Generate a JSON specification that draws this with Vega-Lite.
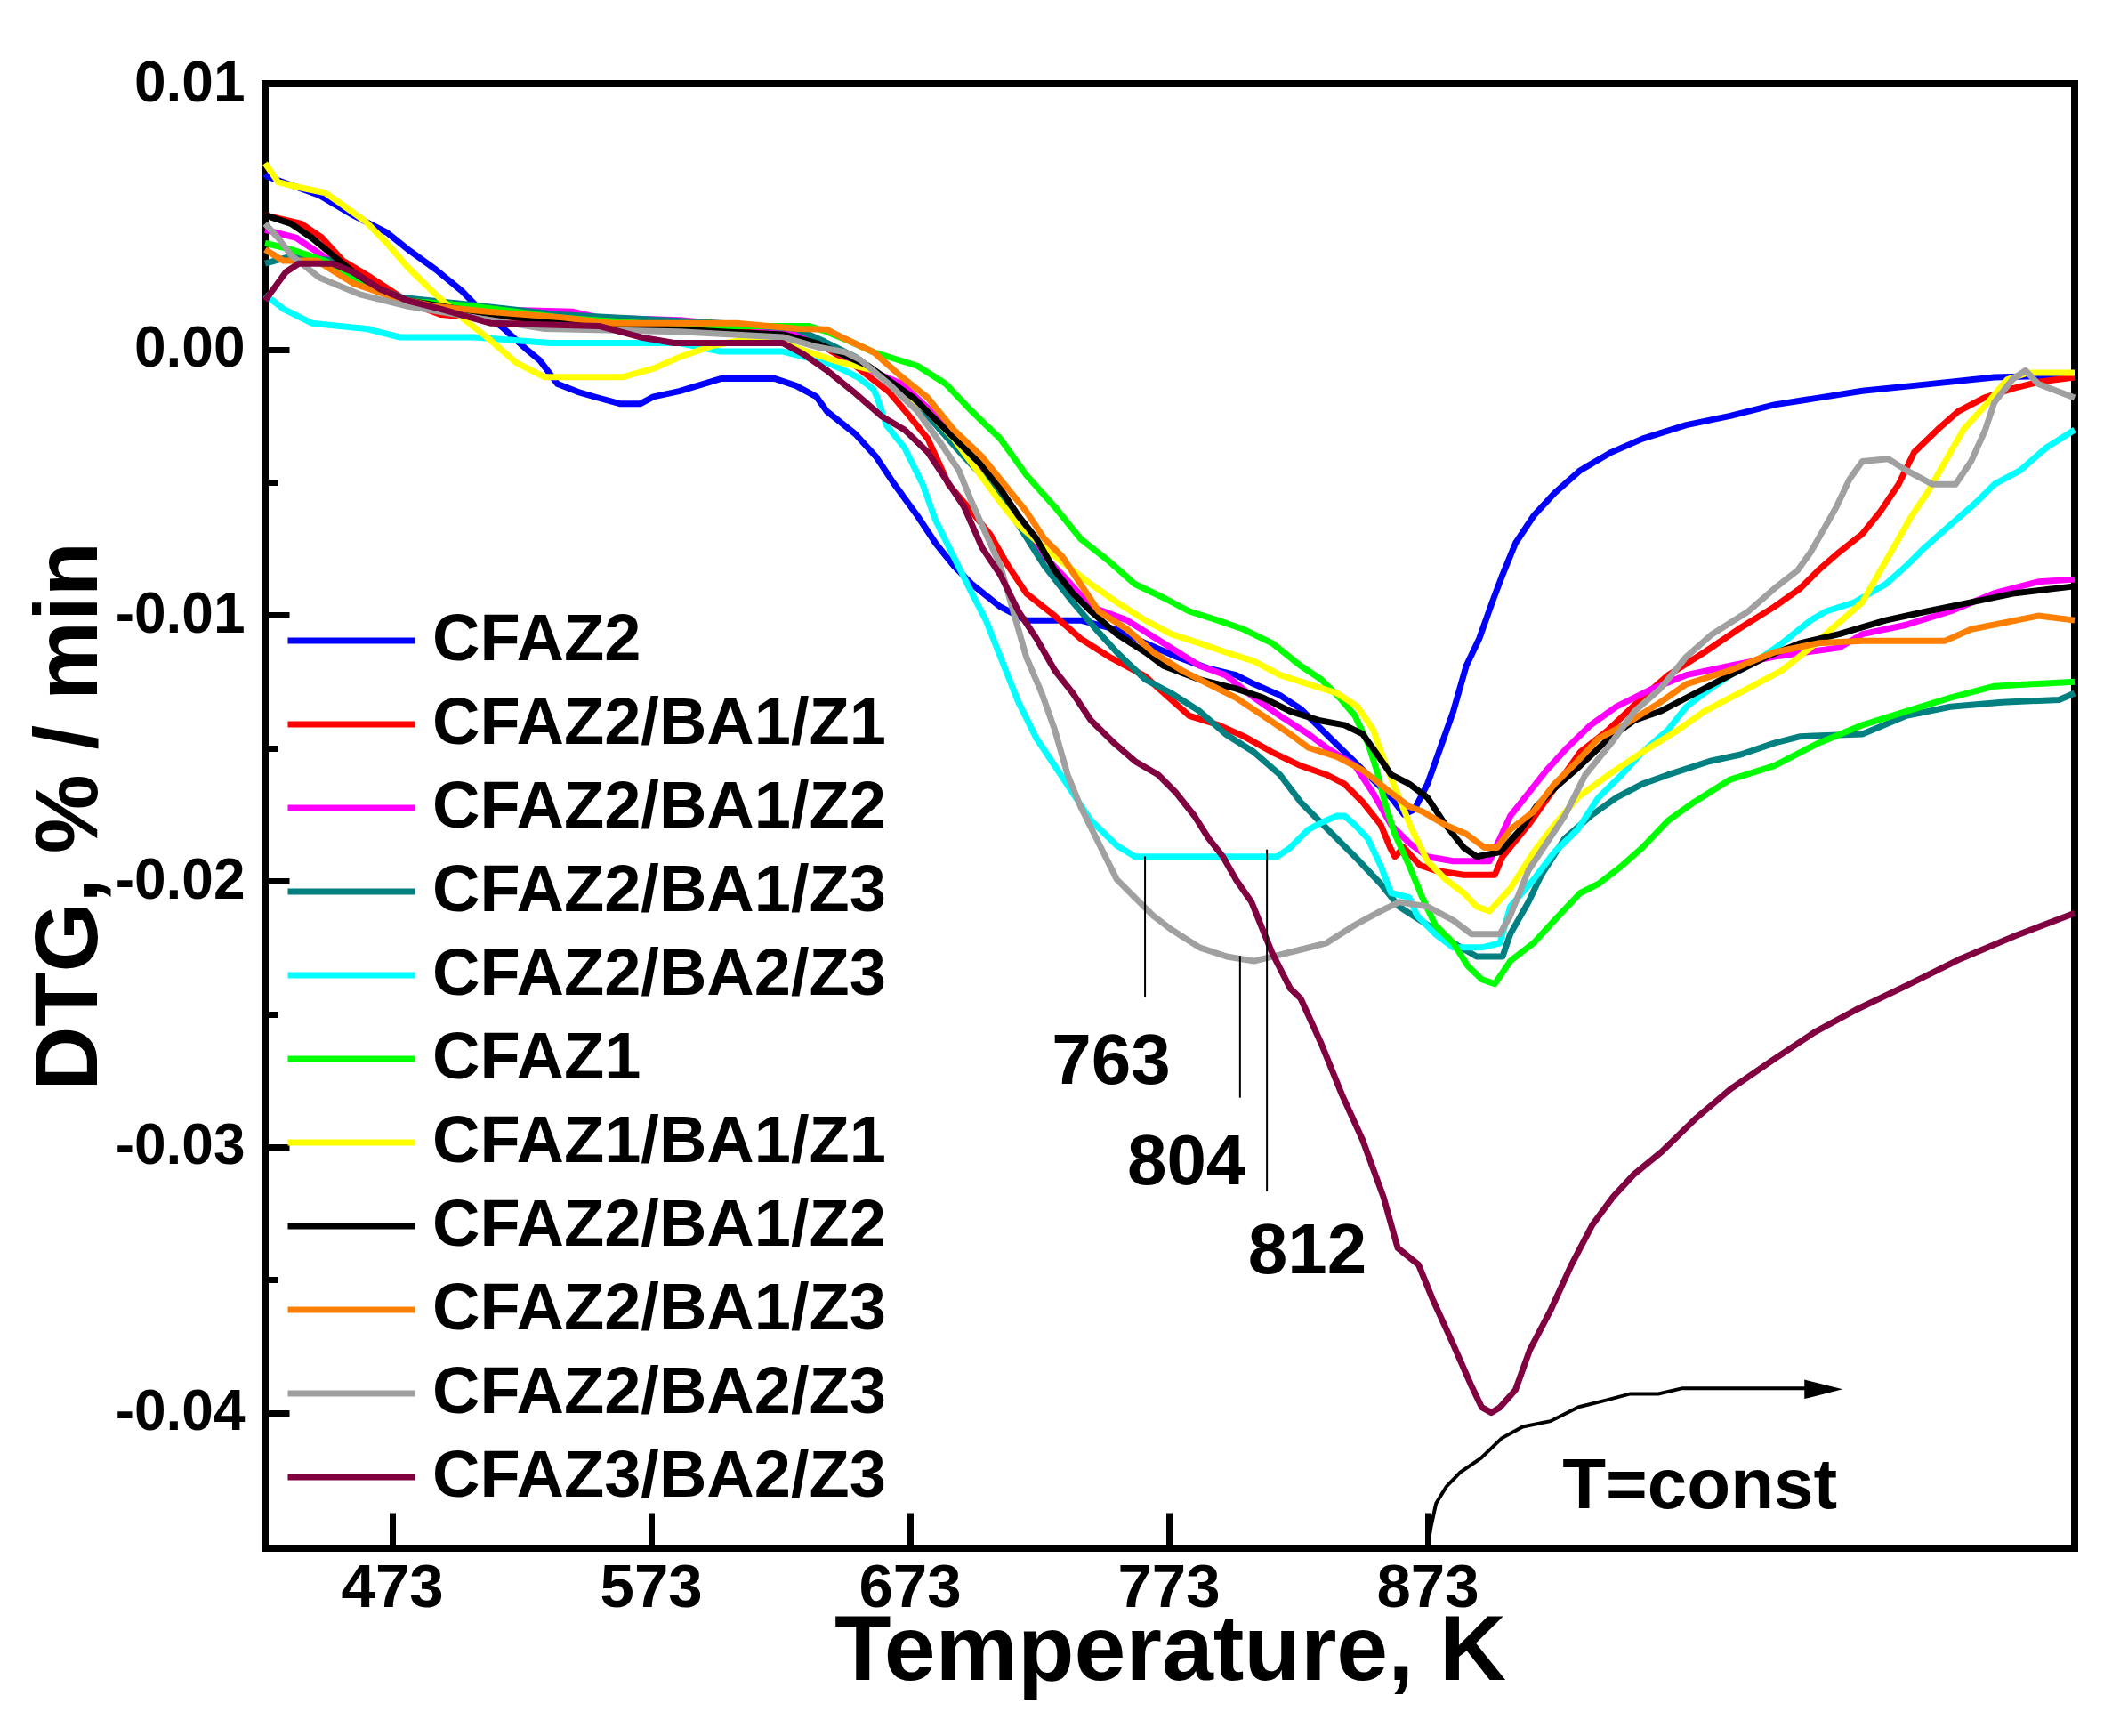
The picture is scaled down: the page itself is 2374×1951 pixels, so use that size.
{
"$schema": "https://vega.github.io/schema/vega-lite/v6.json",
"width": 2034, "height": 1646,
"autosize": {"type": "none"},
"padding": {"left": 298, "top": 94, "right": 42, "bottom": 211},
"background": "white",
"config": {
  "view": {"stroke": "black", "strokeWidth": 8},
  "font": "Liberation Sans",
  "axis": {"domain": false, "grid": false, "labelFont": "Liberation Sans", "labelFontWeight": "bold", "titleFont": "Liberation Sans", "titleFontWeight": "bold", "labelColor": "black", "titleColor": "black", "tickColor": "black", "tickWidth": 7}
},
"datasets": {
"curves": [
{"s":"01","x":424,"y":0.0066},{"s":"01","x":425,"y":0.0065},{"s":"01","x":445,"y":0.0058},{"s":"01","x":458,"y":0.00505},{"s":"01","x":471,"y":0.0044},{"s":"01","x":480,"y":0.0037},{"s":"01","x":490,"y":0.003},{"s":"01","x":500,"y":0.0022},{"s":"01","x":508,"y":0.0014},{"s":"01","x":516,"y":0.0008},{"s":"01","x":525,"y":0.0},{"s":"01","x":530,"y":-0.0004},{"s":"01","x":537,"y":-0.0013},{"s":"01","x":545,"y":-0.0016},{"s":"01","x":552,"y":-0.0018},{"s":"01","x":561,"y":-0.00204},{"s":"01","x":569,"y":-0.00204},{"s":"01","x":574,"y":-0.00178},{"s":"01","x":584,"y":-0.00157},{"s":"01","x":600,"y":-0.0011},{"s":"01","x":621,"y":-0.0011},{"s":"01","x":629,"y":-0.00136},{"s":"01","x":637,"y":-0.00178},{"s":"01","x":641,"y":-0.00233},{"s":"01","x":652,"y":-0.00318},{"s":"01","x":660,"y":-0.00404},{"s":"01","x":667,"y":-0.00506},{"s":"01","x":676,"y":-0.00626},{"s":"01","x":683,"y":-0.00729},{"s":"01","x":690,"y":-0.00814},{"s":"01","x":697,"y":-0.00883},{"s":"01","x":708,"y":-0.00968},{"s":"01","x":718,"y":-0.01019},{"s":"01","x":739,"y":-0.01019},{"s":"01","x":753,"y":-0.01054},{"s":"01","x":764,"y":-0.01105},{"s":"01","x":776,"y":-0.01156},{"s":"01","x":788,"y":-0.01199},{"s":"01","x":799,"y":-0.01225},{"s":"01","x":806,"y":-0.01259},{"s":"01","x":816,"y":-0.01301},{"s":"01","x":824,"y":-0.01352},{"s":"01","x":832,"y":-0.01429},{"s":"01","x":841,"y":-0.01515},{"s":"01","x":850,"y":-0.016},{"s":"01","x":859,"y":-0.01686},{"s":"01","x":864,"y":-0.0175},{"s":"01","x":868,"y":-0.0173},{"s":"01","x":873,"y":-0.01635},{"s":"01","x":878,"y":-0.01498},{"s":"01","x":883,"y":-0.01361},{"s":"01","x":888,"y":-0.0119},{"s":"01","x":893,"y":-0.01088},{"s":"01","x":898,"y":-0.00951},{"s":"01","x":902,"y":-0.00848},{"s":"01","x":907,"y":-0.00729},{"s":"01","x":914,"y":-0.00626},{"s":"01","x":922,"y":-0.00541},{"s":"01","x":932,"y":-0.00455},{"s":"01","x":944,"y":-0.00387},{"s":"01","x":956,"y":-0.00336},{"s":"01","x":973,"y":-0.00284},{"s":"01","x":990,"y":-0.0025},{"s":"01","x":1007,"y":-0.00208},{"s":"01","x":1024,"y":-0.00182},{"s":"01","x":1041,"y":-0.00156},{"s":"01","x":1066,"y":-0.00131},{"s":"01","x":1092,"y":-0.00105},{"s":"01","x":1123,"y":-0.00097},
{"s":"02","x":424,"y":0.00505},{"s":"02","x":438,"y":0.00473},{"s":"02","x":446,"y":0.0042},{"s":"02","x":454,"y":0.00334},{"s":"02","x":465,"y":0.0027},{"s":"02","x":480,"y":0.00174},{"s":"02","x":492,"y":0.00131},{"s":"02","x":505,"y":0.0012},{"s":"02","x":530,"y":0.001},{"s":"02","x":560,"y":0.0009},{"s":"02","x":600,"y":0.0008},{"s":"02","x":620,"y":0.0007},{"s":"02","x":635,"y":0.0004},{"s":"02","x":645,"y":-0.0002},{"s":"02","x":652,"y":-0.00062},{"s":"02","x":665,"y":-0.0016},{"s":"02","x":672,"y":-0.0024},{"s":"02","x":680,"y":-0.00336},{"s":"02","x":688,"y":-0.00507},{"s":"02","x":697,"y":-0.0061},{"s":"02","x":704,"y":-0.00695},{"s":"02","x":711,"y":-0.00814},{"s":"02","x":718,"y":-0.00917},{"s":"02","x":729,"y":-0.01002},{"s":"02","x":739,"y":-0.01088},{"s":"02","x":750,"y":-0.01156},{"s":"02","x":764,"y":-0.0123},{"s":"02","x":772,"y":-0.013},{"s":"02","x":781,"y":-0.01378},{"s":"02","x":792,"y":-0.01412},{"s":"02","x":802,"y":-0.01455},{"s":"02","x":813,"y":-0.01515},{"s":"02","x":824,"y":-0.01566},{"s":"02","x":834,"y":-0.016},{"s":"02","x":841,"y":-0.01635},{"s":"02","x":848,"y":-0.01703},{"s":"02","x":855,"y":-0.01789},{"s":"02","x":858.6,"y":-0.01874},{"s":"02","x":860.4,"y":-0.01908},{"s":"02","x":863.9,"y":-0.01874},{"s":"02","x":870,"y":-0.0194},{"s":"02","x":876,"y":-0.0196},{"s":"02","x":887,"y":-0.01977},{"s":"02","x":899,"y":-0.01977},{"s":"02","x":902,"y":-0.01908},{"s":"02","x":912,"y":-0.01789},{"s":"02","x":922,"y":-0.01652},{"s":"02","x":932,"y":-0.01515},{"s":"02","x":943,"y":-0.0143},{"s":"02","x":956,"y":-0.0131},{"s":"02","x":966,"y":-0.01225},{"s":"02","x":980,"y":-0.01139},{"s":"02","x":993,"y":-0.01053},{"s":"02","x":1007,"y":-0.00968},{"s":"02","x":1017,"y":-0.00899},{"s":"02","x":1024,"y":-0.00831},{"s":"02","x":1032,"y":-0.00763},{"s":"02","x":1041,"y":-0.00694},{"s":"02","x":1048,"y":-0.00609},{"s":"02","x":1055,"y":-0.00507},{"s":"02","x":1061,"y":-0.00387},{"s":"02","x":1070,"y":-0.00302},{"s":"02","x":1078,"y":-0.00233},{"s":"02","x":1088,"y":-0.00182},{"s":"02","x":1099,"y":-0.00147},{"s":"02","x":1109,"y":-0.00122},{"s":"02","x":1123,"y":-0.00105},
{"s":"03","x":424,"y":0.0045},{"s":"03","x":436,"y":0.0042},{"s":"03","x":449,"y":0.00334},{"s":"03","x":468,"y":0.00227},{"s":"03","x":479,"y":0.00184},{"s":"03","x":504,"y":0.00152},{"s":"03","x":543,"y":0.00142},{"s":"03","x":553,"y":0.0012},{"s":"03","x":585,"y":0.0011},{"s":"03","x":622,"y":0.00078},{"s":"03","x":635,"y":0.00035},{"s":"03","x":645,"y":-0.0001},{"s":"03","x":658,"y":-0.0008},{"s":"03","x":670,"y":-0.0013},{"s":"03","x":680,"y":-0.0022},{"s":"03","x":690,"y":-0.0033},{"s":"03","x":700,"y":-0.0046},{"s":"03","x":708,"y":-0.0055},{"s":"03","x":715,"y":-0.0066},{"s":"03","x":722,"y":-0.00746},{"s":"03","x":732,"y":-0.00848},{"s":"03","x":743,"y":-0.00968},{"s":"03","x":757,"y":-0.01019},{"s":"03","x":771,"y":-0.01105},{"s":"03","x":785,"y":-0.0119},{"s":"03","x":795,"y":-0.01225},{"s":"03","x":806,"y":-0.0131},{"s":"03","x":816,"y":-0.01378},{"s":"03","x":827,"y":-0.01447},{"s":"03","x":834,"y":-0.01498},{"s":"03","x":845,"y":-0.01566},{"s":"03","x":852,"y":-0.01669},{"s":"03","x":859,"y":-0.01789},{"s":"03","x":866,"y":-0.01857},{"s":"03","x":873,"y":-0.01908},{"s":"03","x":883,"y":-0.01925},{"s":"03","x":897,"y":-0.01925},{"s":"03","x":905,"y":-0.01755},{"s":"03","x":912,"y":-0.01669},{"s":"03","x":919,"y":-0.01583},{"s":"03","x":927,"y":-0.01498},{"s":"03","x":936,"y":-0.01413},{"s":"03","x":946,"y":-0.01344},{"s":"03","x":960,"y":-0.01276},{"s":"03","x":973,"y":-0.01225},{"s":"03","x":990,"y":-0.0119},{"s":"03","x":1007,"y":-0.01156},{"s":"03","x":1032,"y":-0.01122},{"s":"03","x":1041,"y":-0.01071},{"s":"03","x":1058,"y":-0.01036},{"s":"03","x":1075,"y":-0.00985},{"s":"03","x":1092,"y":-0.00917},{"s":"03","x":1109,"y":-0.00874},{"s":"03","x":1123,"y":-0.00865},
{"s":"04","x":424,"y":0.00323},{"s":"04","x":434,"y":0.0035},{"s":"04","x":451,"y":0.00334},{"s":"04","x":462,"y":0.00249},{"s":"04","x":477,"y":0.00195},{"s":"04","x":498,"y":0.00174},{"s":"04","x":537,"y":0.00131},{"s":"04","x":600,"y":0.00099},{"s":"04","x":629,"y":0.00078},{"s":"04","x":640,"y":0.0003},{"s":"04","x":652,"y":-0.00028},{"s":"04","x":666,"y":-0.0013},{"s":"04","x":680,"y":-0.0025},{"s":"04","x":694,"y":-0.00404},{"s":"04","x":704,"y":-0.00507},{"s":"04","x":715,"y":-0.0066},{"s":"04","x":725,"y":-0.00814},{"s":"04","x":736,"y":-0.00951},{"s":"04","x":745,"y":-0.01053},{"s":"04","x":753,"y":-0.01139},{"s":"04","x":764,"y":-0.01242},{"s":"04","x":774,"y":-0.01293},{"s":"04","x":785,"y":-0.01361},{"s":"04","x":795,"y":-0.01447},{"s":"04","x":806,"y":-0.01515},{"s":"04","x":816,"y":-0.016},{"s":"04","x":824,"y":-0.01703},{"s":"04","x":831,"y":-0.01772},{"s":"04","x":838,"y":-0.0184},{"s":"04","x":845,"y":-0.01908},{"s":"04","x":855,"y":-0.02011},{"s":"04","x":862,"y":-0.02096},{"s":"04","x":873,"y":-0.02165},{"s":"04","x":883,"y":-0.02233},{"s":"04","x":892,"y":-0.02284},{"s":"04","x":902,"y":-0.02284},{"s":"04","x":905,"y":-0.02199},{"s":"04","x":912,"y":-0.02079},{"s":"04","x":917,"y":-0.01977},{"s":"04","x":926,"y":-0.0184},{"s":"04","x":936,"y":-0.01755},{"s":"04","x":946,"y":-0.01686},{"s":"04","x":956,"y":-0.01635},{"s":"04","x":966,"y":-0.016},{"s":"04","x":982,"y":-0.01549},{"s":"04","x":994,"y":-0.01524},{"s":"04","x":1007,"y":-0.01481},{"s":"04","x":1017,"y":-0.01456},{"s":"04","x":1041,"y":-0.01447},{"s":"04","x":1058,"y":-0.01378},{"s":"04","x":1075,"y":-0.01344},{"s":"04","x":1095,"y":-0.01327},{"s":"04","x":1117,"y":-0.01318},{"s":"04","x":1123,"y":-0.01293},
{"s":"05","x":424,"y":0.00206},{"s":"05","x":431,"y":0.00153},{"s":"05","x":442,"y":0.00099},{"s":"05","x":463,"y":0.00078},{"s":"05","x":476,"y":0.00046},{"s":"05","x":505,"y":0.00046},{"s":"05","x":534,"y":0.00024},{"s":"05","x":584,"y":0.00024},{"s":"05","x":600,"y":-0.00008},{"s":"05","x":624,"y":-0.00008},{"s":"05","x":637,"y":-0.0004},{"s":"05","x":641,"y":-0.0005},{"s":"05","x":648,"y":-0.0008},{"s":"05","x":653,"y":-0.00105},{"s":"05","x":659,"y":-0.0015},{"s":"05","x":660.4,"y":-0.0018},{"s":"05","x":664,"y":-0.00285},{"s":"05","x":671,"y":-0.0037},{"s":"05","x":678,"y":-0.00507},{"s":"05","x":683,"y":-0.00643},{"s":"05","x":690,"y":-0.0078},{"s":"05","x":697,"y":-0.00917},{"s":"05","x":702.5,"y":-0.0102},{"s":"05","x":708,"y":-0.01156},{"s":"05","x":715,"y":-0.01327},{"s":"05","x":722,"y":-0.01464},{"s":"05","x":729,"y":-0.01566},{"s":"05","x":736,"y":-0.01669},{"s":"05","x":743,"y":-0.01772},{"s":"05","x":753,"y":-0.01866},{"s":"05","x":760,"y":-0.01908},{"s":"05","x":788,"y":-0.01908},{"s":"05","x":815,"y":-0.01908},{"s":"05","x":820,"y":-0.01874},{"s":"05","x":827,"y":-0.01806},{"s":"05","x":832,"y":-0.0178},{"s":"05","x":838,"y":-0.01755},{"s":"05","x":841,"y":-0.01755},{"s":"05","x":845,"y":-0.01789},{"s":"05","x":850,"y":-0.0184},{"s":"05","x":855,"y":-0.01943},{"s":"05","x":859,"y":-0.02045},{"s":"05","x":866,"y":-0.02062},{"s":"05","x":869,"y":-0.0213},{"s":"05","x":876,"y":-0.02199},{"s":"05","x":883,"y":-0.0225},{"s":"05","x":894,"y":-0.0225},{"s":"05","x":901,"y":-0.02233},{"s":"05","x":905,"y":-0.02096},{"s":"05","x":914,"y":-0.01994},{"s":"05","x":922,"y":-0.01891},{"s":"05","x":931,"y":-0.01806},{"s":"05","x":939,"y":-0.01686},{"s":"05","x":948,"y":-0.016},{"s":"05","x":956,"y":-0.01515},{"s":"05","x":966,"y":-0.0143},{"s":"05","x":973,"y":-0.01344},{"s":"05","x":980,"y":-0.01293},{"s":"05","x":990,"y":-0.01225},{"s":"05","x":1000,"y":-0.01173},{"s":"05","x":1010,"y":-0.01105},{"s":"05","x":1021,"y":-0.01019},{"s":"05","x":1027,"y":-0.00985},{"s":"05","x":1038,"y":-0.00951},{"s":"05","x":1050,"y":-0.00883},{"s":"05","x":1058,"y":-0.00814},{"s":"05","x":1065,"y":-0.00746},{"s":"05","x":1075,"y":-0.0066},{"s":"05","x":1085,"y":-0.00575},{"s":"05","x":1092,"y":-0.00507},{"s":"05","x":1102,"y":-0.00455},{"s":"05","x":1112,"y":-0.0037},{"s":"05","x":1123,"y":-0.00302},
{"s":"06","x":424,"y":0.004},{"s":"06","x":434,"y":0.00376},{"s":"06","x":447,"y":0.00334},{"s":"06","x":462,"y":0.00249},{"s":"06","x":477,"y":0.00184},{"s":"06","x":504,"y":0.00163},{"s":"06","x":538,"y":0.0012},{"s":"06","x":584,"y":0.00088},{"s":"06","x":634,"y":0.00088},{"s":"06","x":640,"y":0.0007},{"s":"06","x":650,"y":0.0003},{"s":"06","x":659,"y":-0.0001},{"s":"06","x":676,"y":-0.00062},{"s":"06","x":687,"y":-0.0013},{"s":"06","x":697,"y":-0.00233},{"s":"06","x":708,"y":-0.00336},{"s":"06","x":718,"y":-0.00472},{"s":"06","x":729,"y":-0.00592},{"s":"06","x":739,"y":-0.00712},{"s":"06","x":750,"y":-0.00797},{"s":"06","x":760,"y":-0.00883},{"s":"06","x":771,"y":-0.00934},{"s":"06","x":781,"y":-0.00985},{"s":"06","x":792,"y":-0.01019},{"s":"06","x":802,"y":-0.01053},{"s":"06","x":813,"y":-0.01105},{"s":"06","x":824,"y":-0.0119},{"s":"06","x":832,"y":-0.01242},{"s":"06","x":839,"y":-0.0131},{"s":"06","x":845,"y":-0.01378},{"s":"06","x":850,"y":-0.01481},{"s":"06","x":853.4,"y":-0.01583},{"s":"06","x":857,"y":-0.0172},{"s":"06","x":860.4,"y":-0.01823},{"s":"06","x":866,"y":-0.01943},{"s":"06","x":871,"y":-0.02062},{"s":"06","x":876,"y":-0.02165},{"s":"06","x":883,"y":-0.02233},{"s":"06","x":888.5,"y":-0.02318},{"s":"06","x":894,"y":-0.0237},{"s":"06","x":899,"y":-0.02387},{"s":"06","x":905,"y":-0.02301},{"s":"06","x":914,"y":-0.02233},{"s":"06","x":922,"y":-0.02148},{"s":"06","x":932,"y":-0.02045},{"s":"06","x":939,"y":-0.02011},{"s":"06","x":948,"y":-0.01943},{"s":"06","x":956,"y":-0.01874},{"s":"06","x":966,"y":-0.01772},{"s":"06","x":976,"y":-0.01703},{"s":"06","x":990,"y":-0.01618},{"s":"06","x":1007,"y":-0.01566},{"s":"06","x":1024,"y":-0.01481},{"s":"06","x":1041,"y":-0.01413},{"s":"06","x":1058,"y":-0.01361},{"s":"06","x":1075,"y":-0.0131},{"s":"06","x":1092,"y":-0.01267},{"s":"06","x":1123,"y":-0.0125},
{"s":"07","x":424,"y":0.007},{"s":"07","x":429,"y":0.0063},{"s":"07","x":437,"y":0.0061},{"s":"07","x":447,"y":0.0059},{"s":"07","x":453,"y":0.0055},{"s":"07","x":463,"y":0.0048},{"s":"07","x":471,"y":0.004},{"s":"07","x":479,"y":0.0031},{"s":"07","x":490,"y":0.00206},{"s":"07","x":500,"y":0.0012},{"s":"07","x":511,"y":0.00035},{"s":"07","x":521,"y":-0.0005},{"s":"07","x":532,"y":-0.00104},{"s":"07","x":562,"y":-0.00104},{"s":"07","x":574,"y":-0.00072},{"s":"07","x":584,"y":-0.00029},{"s":"07","x":597,"y":0.00014},{"s":"07","x":608,"y":0.00035},{"s":"07","x":624,"y":0.00024},{"s":"07","x":637,"y":-0.0002},{"s":"07","x":645,"y":-0.00045},{"s":"07","x":659,"y":-0.00079},{"s":"07","x":669,"y":-0.00147},{"s":"07","x":680,"y":-0.00233},{"s":"07","x":690,"y":-0.00336},{"s":"07","x":699,"y":-0.00455},{"s":"07","x":708,"y":-0.00575},{"s":"07","x":715,"y":-0.0066},{"s":"07","x":725,"y":-0.00746},{"s":"07","x":736,"y":-0.00831},{"s":"07","x":743,"y":-0.00883},{"s":"07","x":753,"y":-0.00951},{"s":"07","x":764,"y":-0.01019},{"s":"07","x":774,"y":-0.01071},{"s":"07","x":785,"y":-0.01105},{"s":"07","x":795,"y":-0.01139},{"s":"07","x":806,"y":-0.01173},{"s":"07","x":816,"y":-0.01225},{"s":"07","x":827,"y":-0.01259},{"s":"07","x":838,"y":-0.01293},{"s":"07","x":846,"y":-0.01344},{"s":"07","x":852,"y":-0.0143},{"s":"07","x":857,"y":-0.01566},{"s":"07","x":862,"y":-0.01686},{"s":"07","x":867,"y":-0.01806},{"s":"07","x":873,"y":-0.01925},{"s":"07","x":880,"y":-0.01994},{"s":"07","x":887,"y":-0.02045},{"s":"07","x":892,"y":-0.02096},{"s":"07","x":897,"y":-0.02113},{"s":"07","x":905,"y":-0.02028},{"s":"07","x":914,"y":-0.01891},{"s":"07","x":922,"y":-0.01789},{"s":"07","x":931,"y":-0.01686},{"s":"07","x":943,"y":-0.016},{"s":"07","x":956,"y":-0.01515},{"s":"07","x":970,"y":-0.0143},{"s":"07","x":980,"y":-0.01361},{"s":"07","x":990,"y":-0.0131},{"s":"07","x":1000,"y":-0.01259},{"s":"07","x":1010,"y":-0.01207},{"s":"07","x":1021,"y":-0.01122},{"s":"07","x":1031,"y":-0.01036},{"s":"07","x":1041,"y":-0.00951},{"s":"07","x":1048,"y":-0.00831},{"s":"07","x":1055,"y":-0.00712},{"s":"07","x":1060,"y":-0.00626},{"s":"07","x":1066,"y":-0.00541},{"s":"07","x":1073,"y":-0.00421},{"s":"07","x":1080,"y":-0.00302},{"s":"07","x":1088,"y":-0.00216},{"s":"07","x":1097,"y":-0.00113},{"s":"07","x":1105,"y":-0.00088},{"s":"07","x":1123,"y":-0.00088},
{"s":"08","x":424,"y":0.00505},{"s":"08","x":434,"y":0.00473},{"s":"08","x":442,"y":0.0042},{"s":"08","x":450,"y":0.00355},{"s":"08","x":458,"y":0.00291},{"s":"08","x":468,"y":0.00227},{"s":"08","x":479,"y":0.00184},{"s":"08","x":505,"y":0.00142},{"s":"08","x":521,"y":0.0012},{"s":"08","x":560,"y":0.00088},{"s":"08","x":600,"y":0.00067},{"s":"08","x":624,"y":0.00056},{"s":"08","x":637,"y":0.00024},{"s":"08","x":645,"y":-0.0001},{"s":"08","x":657,"y":-0.00062},{"s":"08","x":674.5,"y":-0.00182},{"s":"08","x":687,"y":-0.00302},{"s":"08","x":694,"y":-0.0037},{"s":"08","x":701,"y":-0.00438},{"s":"08","x":708,"y":-0.00524},{"s":"08","x":715,"y":-0.00626},{"s":"08","x":722,"y":-0.00712},{"s":"08","x":729,"y":-0.00831},{"s":"08","x":736,"y":-0.00917},{"s":"08","x":743,"y":-0.00985},{"s":"08","x":753,"y":-0.01071},{"s":"08","x":764,"y":-0.01139},{"s":"08","x":771,"y":-0.0119},{"s":"08","x":785,"y":-0.01242},{"s":"08","x":799,"y":-0.01276},{"s":"08","x":809.5,"y":-0.0131},{"s":"08","x":820,"y":-0.01361},{"s":"08","x":831,"y":-0.01395},{"s":"08","x":841,"y":-0.01413},{"s":"08","x":848,"y":-0.01447},{"s":"08","x":853,"y":-0.01515},{"s":"08","x":859,"y":-0.016},{"s":"08","x":866,"y":-0.01635},{"s":"08","x":873,"y":-0.01686},{"s":"08","x":880,"y":-0.01789},{"s":"08","x":887,"y":-0.01874},{"s":"08","x":892,"y":-0.01908},{"s":"08","x":901,"y":-0.01891},{"s":"08","x":909,"y":-0.01806},{"s":"08","x":915,"y":-0.0172},{"s":"08","x":922,"y":-0.01652},{"s":"08","x":932,"y":-0.01566},{"s":"08","x":943,"y":-0.01464},{"s":"08","x":953,"y":-0.01395},{"s":"08","x":963,"y":-0.01361},{"s":"08","x":976.5,"y":-0.01293},{"s":"08","x":990,"y":-0.01225},{"s":"08","x":1004,"y":-0.01156},{"s":"08","x":1017,"y":-0.01105},{"s":"08","x":1032,"y":-0.01071},{"s":"08","x":1050,"y":-0.01019},{"s":"08","x":1066,"y":-0.00985},{"s":"08","x":1083,"y":-0.00951},{"s":"08","x":1100,"y":-0.00917},{"s":"08","x":1123,"y":-0.00891},
{"s":"09","x":424,"y":0.00376},{"s":"09","x":431,"y":0.00334},{"s":"09","x":444,"y":0.00334},{"s":"09","x":458,"y":0.00249},{"s":"09","x":474,"y":0.00195},{"s":"09","x":489,"y":0.00163},{"s":"09","x":510,"y":0.00142},{"s":"09","x":539,"y":0.0012},{"s":"09","x":558,"y":0.00099},{"s":"09","x":606,"y":0.00099},{"s":"09","x":630,"y":0.00078},{"s":"09","x":641,"y":0.00075},{"s":"09","x":648,"y":0.0004},{"s":"09","x":659,"y":-0.0001},{"s":"09","x":669,"y":-0.00096},{"s":"09","x":680,"y":-0.00182},{"s":"09","x":690,"y":-0.00302},{"s":"09","x":701,"y":-0.00404},{"s":"09","x":708,"y":-0.00489},{"s":"09","x":718,"y":-0.00609},{"s":"09","x":725,"y":-0.00712},{"s":"09","x":732,"y":-0.0078},{"s":"09","x":739,"y":-0.00883},{"s":"09","x":746,"y":-0.00985},{"s":"09","x":757,"y":-0.01053},{"s":"09","x":767,"y":-0.01139},{"s":"09","x":778,"y":-0.01207},{"s":"09","x":788.5,"y":-0.01259},{"s":"09","x":799,"y":-0.0131},{"s":"09","x":809.5,"y":-0.01378},{"s":"09","x":820,"y":-0.01447},{"s":"09","x":827,"y":-0.01498},{"s":"09","x":838,"y":-0.01532},{"s":"09","x":848,"y":-0.01583},{"s":"09","x":859,"y":-0.01669},{"s":"09","x":866,"y":-0.0172},{"s":"09","x":871,"y":-0.01738},{"s":"09","x":880,"y":-0.01789},{"s":"09","x":888,"y":-0.01823},{"s":"09","x":895,"y":-0.01874},{"s":"09","x":900,"y":-0.01874},{"s":"09","x":905,"y":-0.01806},{"s":"09","x":914,"y":-0.01738},{"s":"09","x":922,"y":-0.01635},{"s":"09","x":931,"y":-0.01549},{"s":"09","x":939,"y":-0.01464},{"s":"09","x":949,"y":-0.01413},{"s":"09","x":963,"y":-0.01327},{"s":"09","x":973,"y":-0.01259},{"s":"09","x":990,"y":-0.01207},{"s":"09","x":1007,"y":-0.01139},{"s":"09","x":1024,"y":-0.01105},{"s":"09","x":1041,"y":-0.01096},{"s":"09","x":1073,"y":-0.01096},{"s":"09","x":1083,"y":-0.01053},{"s":"09","x":1109,"y":-0.01002},{"s":"09","x":1123,"y":-0.01019},
{"s":"10","x":424,"y":0.00473},{"s":"10","x":429,"y":0.0042},{"s":"10","x":434,"y":0.00355},{"s":"10","x":445,"y":0.0027},{"s":"10","x":461,"y":0.00206},{"s":"10","x":479,"y":0.00163},{"s":"10","x":505,"y":0.0012},{"s":"10","x":532,"y":0.00078},{"s":"10","x":584,"y":0.00067},{"s":"10","x":624,"y":0.00046},{"s":"10","x":637,"y":0.0001},{"s":"10","x":648,"y":-0.0001},{"s":"10","x":654,"y":-0.0004},{"s":"10","x":665,"y":-0.0013},{"s":"10","x":676,"y":-0.00233},{"s":"10","x":685,"y":-0.00353},{"s":"10","x":692,"y":-0.00455},{"s":"10","x":697,"y":-0.00575},{"s":"10","x":702.5,"y":-0.00695},{"s":"10","x":708,"y":-0.00814},{"s":"10","x":713,"y":-0.00985},{"s":"10","x":718,"y":-0.01156},{"s":"10","x":724,"y":-0.01293},{"s":"10","x":729,"y":-0.0143},{"s":"10","x":734,"y":-0.016},{"s":"10","x":739,"y":-0.0172},{"s":"10","x":746,"y":-0.01857},{"s":"10","x":753,"y":-0.01994},{"s":"10","x":760,"y":-0.02062},{"s":"10","x":767,"y":-0.0213},{"s":"10","x":774,"y":-0.02182},{"s":"10","x":785,"y":-0.0225},{"s":"10","x":795.5,"y":-0.02284},{"s":"10","x":806,"y":-0.02301},{"s":"10","x":813,"y":-0.02284},{"s":"10","x":824,"y":-0.02258},{"s":"10","x":834,"y":-0.02233},{"s":"10","x":845,"y":-0.02165},{"s":"10","x":855,"y":-0.02113},{"s":"10","x":862,"y":-0.02079},{"s":"10","x":873,"y":-0.02096},{"s":"10","x":883,"y":-0.02148},{"s":"10","x":890,"y":-0.02199},{"s":"10","x":901,"y":-0.02199},{"s":"10","x":905,"y":-0.0213},{"s":"10","x":912,"y":-0.0196},{"s":"10","x":919,"y":-0.01857},{"s":"10","x":926,"y":-0.01755},{"s":"10","x":934,"y":-0.016},{"s":"10","x":944,"y":-0.01481},{"s":"10","x":953,"y":-0.01361},{"s":"10","x":963,"y":-0.01276},{"s":"10","x":973,"y":-0.01156},{"s":"10","x":983,"y":-0.01071},{"s":"10","x":997,"y":-0.00985},{"s":"10","x":1007,"y":-0.009},{"s":"10","x":1016,"y":-0.00831},{"s":"10","x":1021,"y":-0.00763},{"s":"10","x":1026,"y":-0.00678},{"s":"10","x":1031,"y":-0.00592},{"s":"10","x":1036,"y":-0.00489},{"s":"10","x":1041,"y":-0.00421},{"s":"10","x":1051,"y":-0.00412},{"s":"10","x":1058,"y":-0.00455},{"s":"10","x":1068,"y":-0.00507},{"s":"10","x":1077,"y":-0.00507},{"s":"10","x":1083,"y":-0.00421},{"s":"10","x":1088.5,"y":-0.00302},{"s":"10","x":1092,"y":-0.00199},{"s":"10","x":1099,"y":-0.00113},{"s":"10","x":1104,"y":-0.00079},{"s":"10","x":1109,"y":-0.0013},{"s":"10","x":1116,"y":-0.00156},{"s":"10","x":1123,"y":-0.00182},
{"s":"11","x":424,"y":0.00184},{"s":"11","x":432,"y":0.00291},{"s":"11","x":437,"y":0.00323},{"s":"11","x":450,"y":0.00323},{"s":"11","x":458,"y":0.00291},{"s":"11","x":468.5,"y":0.00227},{"s":"11","x":479,"y":0.00184},{"s":"11","x":492,"y":0.00152},{"s":"11","x":511,"y":0.00099},{"s":"11","x":553,"y":0.00088},{"s":"11","x":569,"y":0.00046},{"s":"11","x":582,"y":0.00024},{"s":"11","x":624,"y":0.00024},{"s":"11","x":632,"y":-0.00018},{"s":"11","x":641,"y":-0.00079},{"s":"11","x":652,"y":-0.00165},{"s":"11","x":662,"y":-0.0025},{"s":"11","x":671,"y":-0.00302},{"s":"11","x":680,"y":-0.00387},{"s":"11","x":687,"y":-0.00489},{"s":"11","x":694,"y":-0.00592},{"s":"11","x":701,"y":-0.00746},{"s":"11","x":708,"y":-0.00848},{"s":"11","x":715,"y":-0.00985},{"s":"11","x":722,"y":-0.01088},{"s":"11","x":729,"y":-0.01207},{"s":"11","x":736,"y":-0.01293},{"s":"11","x":743,"y":-0.01395},{"s":"11","x":752,"y":-0.01481},{"s":"11","x":760,"y":-0.01549},{"s":"11","x":769,"y":-0.016},{"s":"11","x":776,"y":-0.01669},{"s":"11","x":783,"y":-0.01755},{"s":"11","x":788.5,"y":-0.0184},{"s":"11","x":794,"y":-0.01908},{"s":"11","x":799,"y":-0.01994},{"s":"11","x":805,"y":-0.02078},{"s":"11","x":813,"y":-0.0227},{"s":"11","x":820,"y":-0.02404},{"s":"11","x":824,"y":-0.02441},{"s":"11","x":832,"y":-0.02612},{"s":"11","x":840,"y":-0.02804},{"s":"11","x":848,"y":-0.02975},{"s":"11","x":856,"y":-0.03188},{"s":"11","x":861.5,"y":-0.0338},{"s":"11","x":869.6,"y":-0.03444},{"s":"11","x":875,"y":-0.03573},{"s":"11","x":883,"y":-0.03744},{"s":"11","x":889.7,"y":-0.03893},{"s":"11","x":894,"y":-0.0398},{"s":"11","x":897.7,"y":-0.04},{"s":"11","x":901,"y":-0.0398},{"s":"11","x":907,"y":-0.03914},{"s":"11","x":912.5,"y":-0.03765},{"s":"11","x":920.5,"y":-0.03616},{"s":"11","x":928.6,"y":-0.03444},{"s":"11","x":936.6,"y":-0.03295},{"s":"11","x":944.7,"y":-0.03188},{"s":"11","x":952.8,"y":-0.03103},{"s":"11","x":963.5,"y":-0.03018},{"s":"11","x":977,"y":-0.0289},{"s":"11","x":990,"y":-0.02783},{"s":"11","x":1006,"y":-0.02676},{"s":"11","x":1022.5,"y":-0.02569},{"s":"11","x":1038.6,"y":-0.02484},{"s":"11","x":1057,"y":-0.02398},{"s":"11","x":1079,"y":-0.02292},{"s":"11","x":1100,"y":-0.02206},{"s":"11","x":1123,"y":-0.02121}
],
"rules": [
{"x":763.9,"y":-0.01907,"y2":-0.02436},
{"x":800.6,"y":-0.02281,"y2":-0.02815},
{"x":811.0,"y":-0.01881,"y2":-0.03167}
],
"labels": [
{"t":"763","x":750.8,"y":-0.02762},
{"t":"804","x":779.9,"y":-0.03142},
{"t":"812","x":826.6,"y":-0.03477},
{"t":"T=const","x":978.2,"y":-0.04359}
],
"arrow": [
{"x":873.0,"y":-0.0451},{"x":874.4,"y":-0.04427},{"x":876.3,"y":-0.04342},{"x":880.3,"y":-0.04278},{"x":885.7,"y":-0.04224},{"x":893.7,"y":-0.04171},{"x":901.7,"y":-0.04096},{"x":909.8,"y":-0.04053},{"x":920.5,"y":-0.04032},{"x":931.3,"y":-0.03979},{"x":942.0,"y":-0.03953},{"x":951.4,"y":-0.03929},{"x":962.2,"y":-0.03929},{"x":971.5,"y":-0.03908},{"x":1020.0,"y":-0.03908}
],
"head": [{"x":1026.0,"y":-0.03912}]
},
"layer": [
{
 "data": {"name": "curves"},
 "mark": {"type": "line", "strokeWidth": 7, "strokeJoin": "round"},
 "encoding": {
  "x": {"field": "x", "type": "quantitative",
   "scale": {"domain": [424, 1123], "nice": false, "zero": false},
   "axis": {"values": [473, 573, 673, 773, 873], "tickSize": -40, "labelFontSize": 69, "labelPadding": 50, "labelFlush": false, "title": "Temperature, K", "titleFontSize": 104, "titlePadding": -14}},
  "y": {"field": "y", "type": "quantitative",
   "scale": {"domain": [-0.0451, 0.01], "nice": false, "zero": false},
   "axis": {"values": [0.01, 0, -0.005, -0.01, -0.015, -0.02, -0.025, -0.03, -0.035, -0.04],
     "tickSize": {"condition": {"test": "round(abs(datum.value)*200) % 2 == 1", "value": -14}, "value": -27},
     "labelExpr": "round(abs(datum.value)*200) % 2 == 1 ? '' : (datum.value < 0 ? '-' : '') + format(abs(datum.value), '.2f')",
     "labelFontSize": 64, "labelPadding": 50, "labelFlush": false, "title": "DTG, % / min", "titleFontSize": 100, "titlePadding": 0}},
  "color": {"field": "s", "type": "nominal",
   "scale": {"domain": ["01","02","03","04","05","06","07","08","09","10","11"],
     "range": ["#0000FF","#FF0000","#FF00FF","#008080","#00FFFF","#00FF00","#FFFF00","#000000","#FF8000","#A0A0A0","#800040"]},
   "legend": {"orient": "none", "legendX": 60, "legendY": 589, "title": null, "padding": 0,
     "symbolType": "M-3,0H3", "symbolSize": 2272, "symbolStrokeWidth": 7,
     "labelFont": "Liberation Sans", "labelFontWeight": "bold", "labelFontSize": 74, "labelColor": "black", "labelOffset": 54, "labelLimit": 0,
     "rowPadding": 20,
     "labelExpr": "['CFAZ2','CFAZ2/BA1/Z1','CFAZ2/BA1/Z2','CFAZ2/BA1/Z3','CFAZ2/BA2/Z3','CFAZ1','CFAZ1/BA1/Z1','CFAZ2/BA1/Z2','CFAZ2/BA1/Z3','CFAZ2/BA2/Z3','CFAZ3/BA2/Z3'][toNumber(datum.label)-1]"}}
 }
},
{
 "data": {"name": "rules"},
 "mark": {"type": "rule", "strokeWidth": 2, "color": "black"},
 "encoding": {"x": {"field": "x", "type": "quantitative"}, "y": {"field": "y", "type": "quantitative"}, "y2": {"field": "y2"}}
},
{
 "data": {"name": "labels"},
 "mark": {"type": "text", "font": "Liberation Sans", "fontWeight": "bold", "fontSize": 80, "align": "center", "baseline": "alphabetic", "color": "black"},
 "encoding": {"x": {"field": "x", "type": "quantitative"}, "y": {"field": "y", "type": "quantitative"}, "text": {"field": "t", "type": "nominal"}}
},
{
 "data": {"name": "arrow"},
 "mark": {"type": "line", "strokeWidth": 4, "color": "black"},
 "encoding": {"x": {"field": "x", "type": "quantitative"}, "y": {"field": "y", "type": "quantitative"}}
},
{
 "data": {"name": "head"},
 "mark": {"type": "point", "shape": "M-1,-0.5L1,0L-1,0.5Z", "size": 1849, "filled": true, "color": "black", "opacity": 1},
 "encoding": {"x": {"field": "x", "type": "quantitative"}, "y": {"field": "y", "type": "quantitative"}}
}
]
}
